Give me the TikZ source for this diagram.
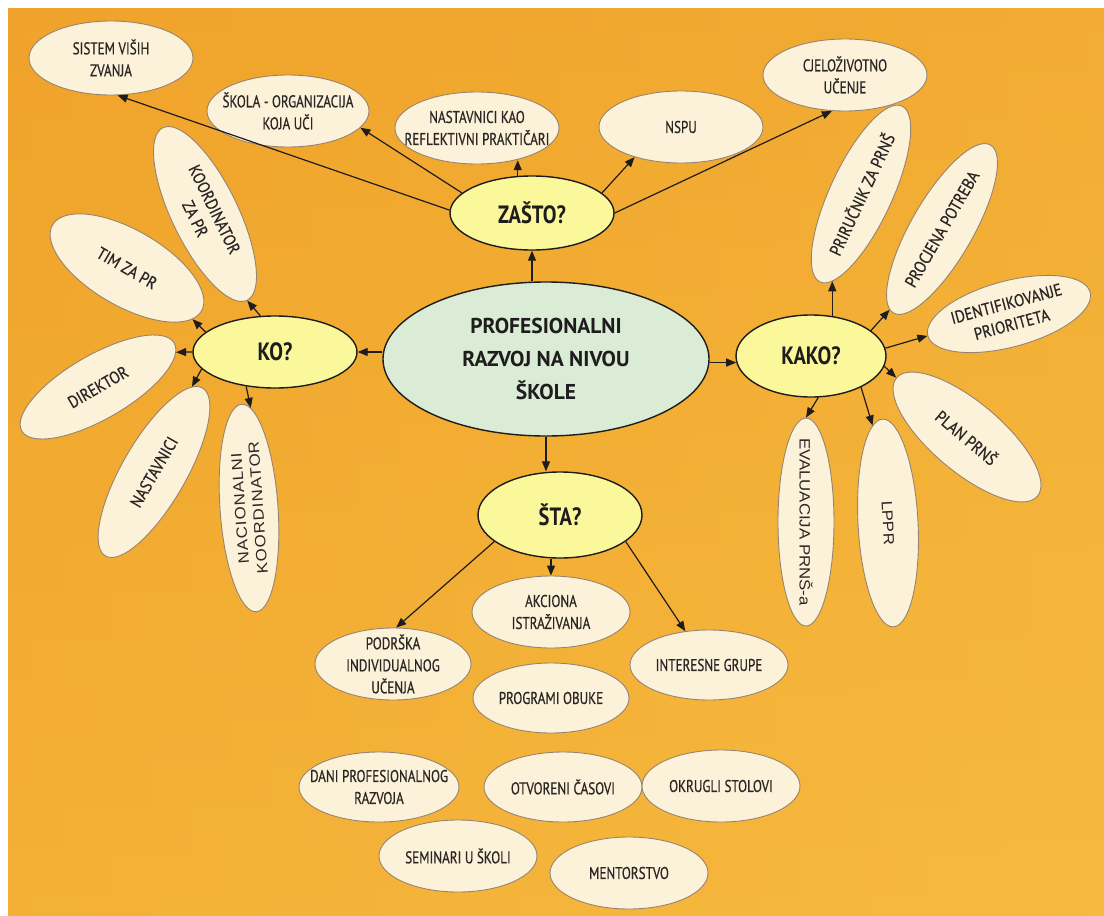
\documentclass[tikz,border=0pt]{standalone}
\usepackage{fontspec}
\setmainfont{PT Sans}
\newfontfamily\leaffont[FakeStretch=0.77,FakeBold=0.6]{PT Sans}
\newfontfamily\tiltfont[FakeStretch=0.88,FakeBold=0.6]{PT Sans}
\newfontfamily\askfont[FakeStretch=0.82]{PT Sans}
\newfontfamily\wideleaf[FakeStretch=1.12]{Liberation Sans}
\newfontfamily\spacedleaf[FakeStretch=1.12,LetterSpace=6]{Liberation Sans}
\usetikzlibrary{shapes.geometric,arrows.meta}

\definecolor{bgtop}{RGB}{240,163,42}
\definecolor{bgbot}{RGB}{246,184,60}
\definecolor{bglight}{RGB}{247,190,70}
\definecolor{leaffill}{RGB}{251,242,217}
\definecolor{leafedge}{RGB}{150,132,112}
\definecolor{leafink}{RGB}{42,38,36}
\definecolor{askfill}{RGB}{250,248,155}
\definecolor{hubfill}{RGB}{218,236,214}
\definecolor{ink}{RGB}{30,28,28}

\tikzset{
  sz/.style 2 args={minimum width=#1pt, minimum height=#2pt},
  leaf/.style={ellipse, draw=leafedge, line width=0.9pt, fill=leaffill,
    text=leafink, font=\leaffont\fontsize{17}{22}\selectfont, align=center,
    inner xsep=-60pt, inner ysep=-35pt},
  tilt/.style={font=\tiltfont\fontsize{17}{21.5}\selectfont},
  wide/.style={font=\wideleaf\fontsize{15}{18}\selectfont},
  spaced/.style={font=\spacedleaf\fontsize{15}{18}\selectfont},
  ask/.style={ellipse, draw=ink, line width=1.4pt, fill=askfill, text=ink,
    font=\askfont\bfseries\fontsize{25}{28}\selectfont, inner sep=-20pt},
  hub/.style={ellipse, draw=ink, line width=1.4pt, fill=hubfill, text=ink,
    font=\bfseries\fontsize{21.5}{33}\selectfont, align=center,
    inner xsep=-50pt, inner ysep=-30pt},
  arr/.style={-{Triangle[length=10pt,width=8pt]}, draw=ink, line width=1.2pt}
}

\begin{document}
\begin{tikzpicture}[x=1pt,y=-1pt]
\useasboundingbox (0,0) rectangle (1104,916);
% paper background
\fill[white] (0,0) rectangle (1104,916);
\shade[top color=bgtop, bottom color=bgbot] (8,8) rectangle (1104,916);
\shade[left color=bgtop, right color=bglight, opacity=0.35] (8,8) rectangle (1104,916);

% hub and question nodes
\node[hub, sz={326}{154}] (c) at (546,359) {PROFESIONALNI\\RAZVOJ NA NIVOU\\ŠKOLE};
\node[ask, sz={164}{74}] (zasto) at (532,213) {ZAŠTO?};
\node[ask, sz={164}{72}] (ko) at (275,352) {KO?};
\node[ask, sz={150}{82}] (kako) at (811,356) {KAKO?};
\node[ask, sz={164}{86}] (sta) at (560,515) {ŠTA?};

% why
\node[leaf, sz={164}{74}] (sistem) at (111,58) {SISTEM VIŠIH\\ZVANJA};
\node[leaf, sz={162}{72}] (skola) at (288,111) {ŠKOLA - ORGANIZACIJA\\KOJA UČI};
\node[leaf, sz={164}{72}] (nkao) at (477,128) {NASTAVNICI KAO\\REFLEKTIVNI PRAKTIČARI};
\node[leaf, sz={164}{72}] (nspu) at (681,127) {NSPU};
\node[leaf, sz={164}{72}] (cjelo) at (845,75) {CJELOŽIVOTNO\\UČENJE};

% who
\node[leaf, tilt, sz={192}{66}, rotate=-64] (koord) at (205,214) {KOORDINATOR\\ZA PR};
\node[leaf, tilt, sz={172}{76}, rotate=-30] (tim) at (127,268) {TIM ZA PR};
\node[leaf, tilt, sz={176}{64}, rotate=30] (direktor) at (98,387) {DIREKTOR};
\node[leaf, tilt, sz={194}{64}, rotate=60] (nast) at (154,472) {NASTAVNICI};
\node[leaf, spaced, sz={208}{58}, rotate=94] (nac) at (249,508) {NACIONALNI\\KOORDINATOR};

% how
\node[leaf, tilt, sz={194}{62}, rotate=65] (prir) at (861,194) {PRIRUČNIK ZA PRNŠ};
\node[leaf, tilt, sz={194}{62}, rotate=60] (proc) at (942,229) {PROCJENA POTREBA};
\node[leaf, tilt, sz={168}{66}, rotate=15] (ident) at (1009,314) {IDENTIFIKOVANJE\\PRIORITETA};
\node[leaf, tilt, sz={184}{70}, rotate=-40] (plan) at (967,437) {PLAN PRNŠ};
\node[leaf, wide, sz={208}{60}, rotate=-87] (lppr) at (888,523) {LPPR};
\node[leaf, wide, sz={208}{56}, rotate=-90] (eval) at (806,522) {EVALUACIJA PRNŠ-a};

% what
\node[leaf, sz={158}{72}] (akc) at (551,612) {AKCIONA\\ISTRAŽIVANJA};
\node[leaf, sz={156}{72}] (pod) at (393,664) {PODRŠKA\\INDIVIDUALNOG\\UČENJA};
\node[leaf, sz={158}{70}] (int) at (709,665) {INTERESNE GRUPE};
\node[leaf, sz={156}{70}] (prog) at (551,698) {PROGRAMI OBUKE};
\node[leaf, sz={160}{70}] (dani) at (379,787) {DANI PROFESIONALNOG\\RAZVOJA};
\node[leaf, sz={158}{70}] (otv) at (563,787) {OTVORENI ČASOVI};
\node[leaf, sz={158}{72}] (okr) at (721,786) {OKRUGLI STOLOVI};
\node[leaf, sz={158}{72}] (sem) at (458,856) {SEMINARI U ŠKOLI};
\node[leaf, sz={158}{72}] (ment) at (629,873) {MENTORSTVO};

% hub arrows
\draw[arr] (c.north -| zasto.south) -- (zasto.south);
\draw[arr] (c.west |- ko.east) -- (ko.east);
\draw[arr] (c.east |- kako.185) -- (kako.185);
\draw[arr] (c.south) -- (c.south |- sta.north);

% why arrows
\draw[arr] (zasto.178) -- (sistem.-80);
\draw[arr] (zasto.164) -- (skola.-13);
\draw[arr] (zasto.111) -- (zasto.111 |- nkao.-40);
\draw[arr] (zasto.16) -- (nspu.213);
\draw[arr] (zasto.east) -- (cjelo.250);

% who arrows
\draw[arr] (ko.112) -- (koord.east);
\draw[arr] (ko.164) -- (tim.-8);
\draw[arr] (ko.west) -- (direktor.-6);
\draw[arr] (ko.193) -- (nast.6);
\draw[arr] (ko.230) -- (nac.-5);

% how arrows
\draw[arr] (kako.62) -- (kako.62 |- prir.187);
\draw[arr] (kako.23) -- (proc.177);
\draw[arr] (kako.6) -- (ident.west);
\draw[arr] (kako.-8) -- (plan.west);
\draw[arr] (kako.-32) -- (lppr.186);
\draw[arr] (kako.-80) -- (eval.west);

% what arrows
\draw[arr] (akc.north |- sta.south) -- (akc.north);
\draw[arr] (sta.202) -- (pod.85);
\draw[arr] (sta.-22) -- (int.125);
\end{tikzpicture}
\end{document}
